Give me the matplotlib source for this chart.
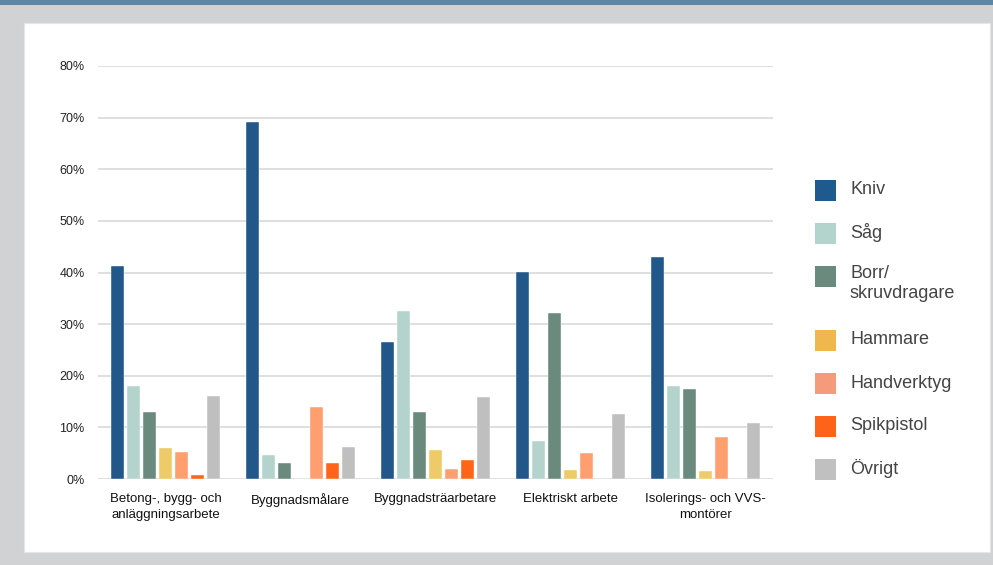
import numpy as np
import matplotlib.pyplot as plt
from matplotlib.patches import Rectangle

# Occupational groups on the x axis
categories = ['Betong-, bygg- och\nanläggningsarbete', 'Byggnadsmålare',
              'Byggnadsträarbetare', 'Elektriskt arbete', 'Isolerings- och VVS-\nmontörer']

# Share of injuries per tool type (fractions)
series = ['Kniv', 'Såg', 'Borr/\nskruvdragare', 'Hammare', 'Handverktyg', 'Spikpistol', 'Övrigt']
kniv = [0.412, 0.692, 0.266, 0.401, 0.430]
sag = [0.181, 0.046, 0.326, 0.074, 0.180]
borr = [0.130, 0.031, 0.129, 0.321, 0.175]
hammare = [0.060, 0.0, 0.057, 0.018, 0.015]
handverktyg = [0.052, 0.139, 0.019, 0.051, 0.082]
spikpistol = [0.008, 0.031, 0.037, 0.0, 0.0]
ovrigt = [0.161, 0.062, 0.159, 0.125, 0.108]
values = [kniv, sag, borr, hammare, handverktyg, spikpistol, ovrigt]

bar_colors = ['#22578a', '#b3d3cc', '#6b8a7e', '#eecb68', '#ff9f70', '#ff6418', '#bfbfbf']
legend_colors = ['#1f5a8f', '#b2d4cc', '#6a8a7e', '#f1b74f', '#f69a7c', '#ff6319', '#c0c0c0']

W, H = 993, 565
fig = plt.figure(figsize=(W / 100, H / 100), dpi=100, facecolor='#d1d2d4')

# page frame: blue strip on top and the white card behind the chart
fig.add_artist(Rectangle((0, 1 - 5 / H), 1, 5 / H, transform=fig.transFigure,
                         facecolor='#5f86a3', edgecolor='none', zorder=-2))
fig.add_artist(Rectangle((24 / W, (H - 552) / H), (990 - 24) / W, (552 - 23) / H,
                         transform=fig.transFigure, facecolor='white',
                         edgecolor='#e6e6e6', linewidth=0.8, zorder=-2))

ax = fig.add_axes([98 / W, (H - 479) / H, (773 - 98) / W, (479 - 66) / H])
ax.set_facecolor('none')

x = np.arange(len(categories))
pitch = 0.1183
width = 0.093
for i, (vals, c) in enumerate(zip(values, bar_colors)):
    ax.bar(x + (i - 3) * pitch, vals, width=width, color=c, zorder=3,
           edgecolor='white', linewidth=0.3)

ax.set_xlim(-0.5, len(categories) - 0.5)
ax.set_ylim(0, 0.8)
ticks = np.arange(0, 0.81, 0.1)
ax.set_yticks(ticks)
ax.set_yticklabels([f'{int(round(t * 100))}%' for t in ticks],
                   fontsize=9, color='#222222', family=['Liberation Sans', 'DejaVu Sans'])
ax.grid(axis='y', color='#d9d9d9', linewidth=1.2, zorder=0)
ax.set_xticks(x)
ax.set_xticklabels(categories, fontsize=9.5, color='#111111', linespacing=1.5,
                   family=['Liberation Sans Narrow', 'Liberation Sans', 'DejaVu Sans'])
ax.tick_params(axis='both', length=0)
ax.tick_params(axis='y', pad=9.5)
ax.tick_params(axis='x', pad=10)
for s in ax.spines.values():
    s.set_visible(False)

# legend drawn as squares with labels on the right side
rows = [190, 233, 276, 340, 383, 426, 469]
for name, c, yr in zip(series, legend_colors, rows):
    fig.add_artist(Rectangle((815 / W, (H - yr - 11) / H), 21 / W, 21 / H,
                             transform=fig.transFigure, facecolor=c, edgecolor='none'))
    if '\n' in name:
        fig.text(850 / W, (H - yr + 11) / H, name, fontsize=13, color='#444444',
                 va='top', ha='left', linespacing=1.25,
                 family=['Liberation Sans', 'DejaVu Sans'])
    else:
        fig.text(850 / W, (H - yr) / H, name, fontsize=13, color='#444444',
                 va='center', ha='left', family=['Liberation Sans', 'DejaVu Sans'])

fig.savefig('out.png', dpi=100, facecolor=fig.get_facecolor())
